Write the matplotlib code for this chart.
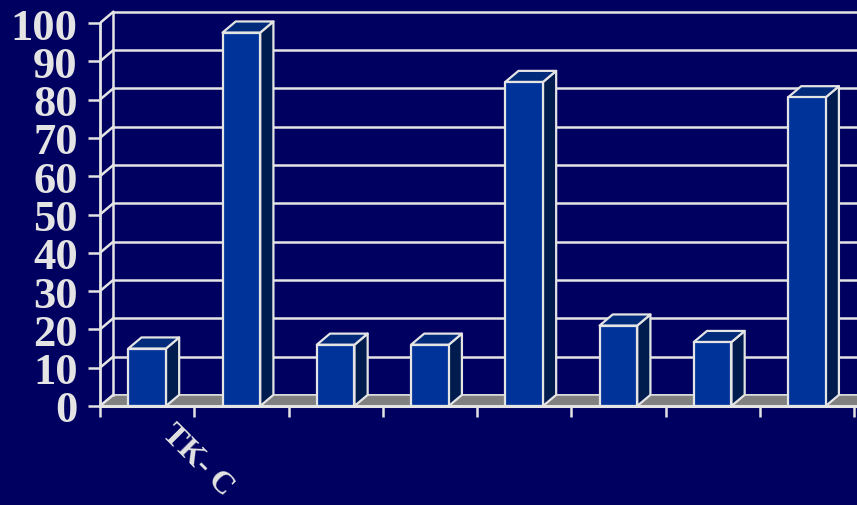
import matplotlib.pyplot as plt
from matplotlib.patches import Polygon, Rectangle
from matplotlib.transforms import ScaledTranslation

# Data
categories = ["TK- C", "", "", "", "", "", "", ""]
values = [15, 97.5, 16, 16, 84.6, 21, 16.7, 80.6]
y_ticks = list(range(0, 101, 10))

# Colours
bg = "#000060"
line_c = "#E4E4E4"
front_c = "#003399"
side_c = "#001C4E"
top_c = "#002A7A"
floor_c = "#808080"

# 3D look: depth offset in data units
dx = 0.14
dy = 2.9
bar_w = 0.40

fig = plt.figure(figsize=(8.57, 5.06), dpi=100, facecolor=bg)
ax = fig.add_axes([100 / 857, 99 / 506, 757 / 857, 407 / 506])
ax.set_facecolor(bg)
ax.set_xlim(0, 757 / 94.25)
ax.set_ylim(0, 407 / 3.83)

right = 10

# floor
floor = Polygon([(0, 0), (dx, dy), (right, dy), (right, 0)], closed=True,
                facecolor=floor_c, edgecolor=line_c, lw=1.2, zorder=1)
ax.add_patch(floor)

# back wall gridlines and left wall diagonals
for v in y_ticks:
    if v > 0:
        ax.plot([dx, right], [v + dy, v + dy], color=line_c, lw=1.8, zorder=1)
    ax.plot([0, dx], [v, v + dy], color=line_c, lw=1.8, zorder=1)
ax.plot([dx, dx], [dy, 100 + dy], color=line_c, lw=1.8, zorder=1)

# bars
for i, v in enumerate(values):
    x0 = i + 0.5 - bar_w / 2
    x1 = x0 + bar_w
    ax.add_patch(Polygon([(x1, 0), (x1 + dx, dy), (x1 + dx, v + dy), (x1, v)],
                         closed=True, facecolor=side_c, edgecolor=line_c,
                         lw=1.6, joinstyle="round", zorder=3))
    ax.add_patch(Polygon([(x0, v), (x0 + dx, v + dy), (x1 + dx, v + dy), (x1, v)],
                         closed=True, facecolor=top_c, edgecolor=line_c,
                         lw=1.6, joinstyle="round", zorder=3))
    ax.add_patch(Rectangle((x0, 0), bar_w, v, facecolor=front_c,
                           edgecolor=line_c, lw=1.6, joinstyle="round", zorder=4))

# axes
for s in ["top", "right"]:
    ax.spines[s].set_visible(False)
ax.spines["left"].set_bounds(0, 100)
ax.spines["left"].set_color(line_c)
ax.spines["left"].set_linewidth(2)
ax.spines["bottom"].set_color(line_c)
ax.spines["bottom"].set_linewidth(2.2)
ax.spines["bottom"].set_zorder(5)

ax.set_yticks(y_ticks)
ax.set_yticklabels([str(t) for t in y_ticks], fontfamily="Liberation Serif",
                   fontweight="bold", fontsize=32, color=line_c)
ax.tick_params(axis="y", direction="out", length=9, width=1.8, color=line_c, pad=7)

ax.set_xticks(range(0, 9))
ax.set_xticklabels([])
ax.tick_params(axis="x", which="major", direction="out", length=8, width=1.8, color=line_c)
ax.set_xticks([i + 0.5 for i in range(len(categories))], minor=True)
ax.set_xticklabels(categories, minor=True, fontfamily="Liberation Serif",
                   fontweight="bold", fontsize=23, color=line_c, rotation=-45,
                   ha="left", va="top", rotation_mode="anchor")
ax.tick_params(axis="x", which="minor", length=0, pad=9)
shift = ScaledTranslation(0.29, 0, fig.dpi_scale_trans)
for lbl in ax.get_xticklabels(minor=True):
    lbl.set_transform(lbl.get_transform() + shift)

fig.savefig("out.png", dpi=100, facecolor=bg)
